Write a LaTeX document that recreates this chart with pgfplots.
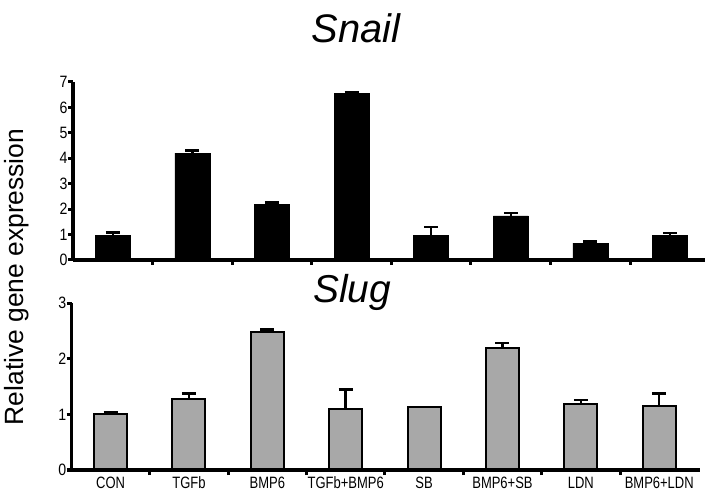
\documentclass[border=0pt]{standalone}
\usepackage{pgfplots}
\pgfplotsset{compat=1.18}
\usepackage{fontspec}
\setmainfont{Liberation Sans}
\newfontfamily\narrowsans[FakeStretch=0.86]{Liberation Sans}
\newfontfamily\xnarrowsans[FakeStretch=0.79]{Liberation Sans}
\definecolor{bargray}{RGB}{168,168,168}
\begin{document}
\begin{tikzpicture}
\useasboundingbox (0,0) rectangle (705bp,493bp);
\pgfplotsset{
  common/.style={
    scale only axis, anchor=south west,
    axis x line*=bottom, axis y line*=left,
    axis line style={line width=3.5bp, black},
    tick style={line width=3bp, black},
    tick align=outside, major tick length=5bp,
    ymin=0, enlargelimits=false,
    /pgf/number format/assume math mode=true,
    tick label style={font=\narrowsans\fontsize{16.5}{16.5}\selectfont, black},
    yticklabel style={xshift=3bp},
    xtick={0.5,1.5,...,6.5}, xticklabels={},
    axis on top,
    error bars/error bar style={line width=2.5bp, black},
    error bars/error mark options={rotate=90, mark size=7bp, line width=2.5bp, black},
  }
}
% Snail
\begin{axis}[common, at={(73bp,233bp)}, width=632bp, height=178bp,
  xmin=-0.50, xmax=7.44, ymax=7, ytick={0,1,...,7}]
\addplot[ybar, bar width=35bp, fill=black, draw=black,
  error bars/.cd, y dir=plus, y explicit] coordinates {
  (0,0.97) +- (0,0.12)
  (1,4.20) +- (0,0.10)
  (2,2.19) +- (0,0.08)
  (3,6.54) +- (0,0.07)
  (4,0.96) +- (0,0.33)
  (5,1.74) +- (0,0.10)
  (6,0.66) +- (0,0.06)
  (7,0.96) +- (0,0.11)
};
\end{axis}
% Slug
\begin{axis}[common, at={(71.7bp,23bp)}, width=628.3bp, height=166.7bp,
  xmin=-0.496, xmax=7.52, ymax=3, ytick={0,1,2,3},
  extra x ticks={0,1,...,7},
  extra x tick labels={CON,TGFb,BMP6,TGFb+BMP6,SB,BMP6+SB,LDN,BMP6+LDN},
  extra x tick style={tick style={draw=none},
    tick label style={font=\xnarrowsans\fontsize{16.5}{16.5}\selectfont, anchor=base, yshift=-13bp}}]
\addplot[ybar, bar width=33bp, fill=bargray, draw=black, line width=2bp,
  error bars/.cd, y dir=plus, y explicit] coordinates {
  (0,1.00) +- (0,0.04)
  (1,1.27) +- (0,0.11)
  (2,2.49) +- (0,0.04)
  (3,1.09) +- (0,0.36)
  (4,1.13) +- (0,0.0)
  (5,2.19) +- (0,0.10)
  (6,1.19) +- (0,0.07)
  (7,1.15) +- (0,0.23)
};
\end{axis}
\node[anchor=base, font=\fontsize{40}{40}\selectfont\itshape] at (356bp,450bp) {Snail};
\node[anchor=base, font=\fontsize{39}{39}\selectfont\itshape] at (352bp,190bp) {Slug};
\node[rotate=90, font=\fontsize{26.5}{26.5}\selectfont] at (17bp,216bp) {Relative gene expression};
\end{tikzpicture}
\end{document}
